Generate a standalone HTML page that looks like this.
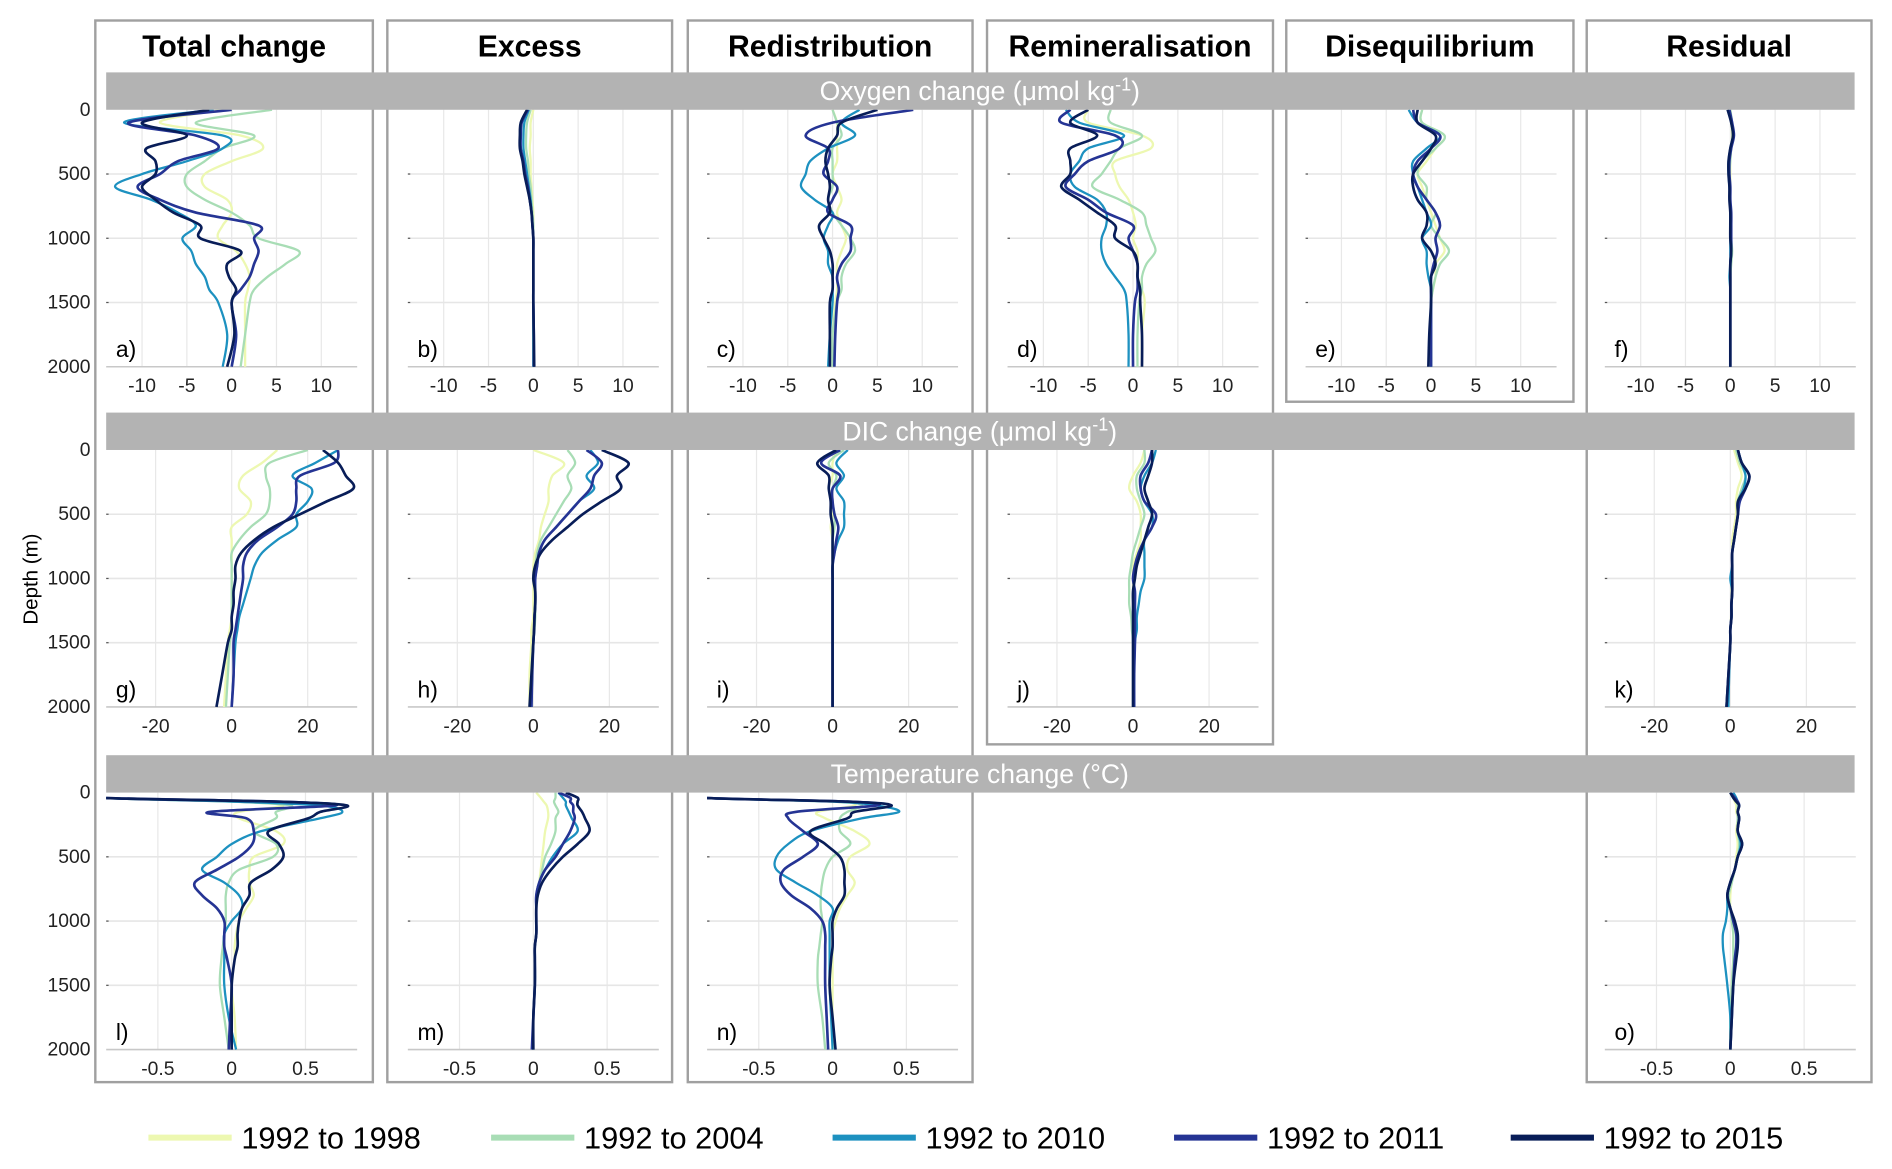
<!DOCTYPE html>
<html><head><meta charset="utf-8">
<style>
html,body{margin:0;padding:0;background:#fff;}
svg{display:block;font-family:"Liberation Sans",Arial,sans-serif;}
</style></head>
<body>
<svg id="chart" width="1892" height="1169" viewBox="0 0 1568 969" preserveAspectRatio="none" xmlns="http://www.w3.org/2000/svg"></svg>
<script>
// ---------- data ----------
const years = ["1992 to 1998","1992 to 2004","1992 to 2010","1992 to 2011","1992 to 2015"];
const colors = ["#edf8b1","#a8ddb5","#1d91c0","#253494","#081d58"];
const depths = [0,100,200,300,400,500,600,700,800,900,1000,1100,1200,1300,1400,1500,1750,2000];
const depthsT = [0,40,70,100,150,200,300,400,500,600,700,800,900,1000,1100,1200,1300,1500,1750,2000];
const ticksO = [-10,-5,0,5,10];
const ticksC = [-20,0,20];
const ticksT = [-0.5,0,0.5];
const depthTicks = [0,500,1000,1500,2000];
const columns = ["Total change","Excess","Redistribution","Remineralisation","Disequilibrium","Residual"];

// Oxygen
const a1998=[-1,-8,1,3.5,0,-3,-3,-0.5,0,-1,-1.5,0.5,1.5,2,1.8,1.5,1.5,1.5];
const a2004=[4.5,-4,2.5,-1,-3,-5,-5,-3,0,2,3,7.5,6,4,2.5,2,1.5,1];
const a2010=[-2,-12,-1,-1,-5,-10,-13,-9,-6,-4,-5.5,-4.5,-4,-3,-2.5,-1.5,-0.5,-1];
const a2011=[0,-11.5,-4,-1.5,-6,-8,-10.5,-8,-4,3,2.5,3,2.5,2,1,0,0.5,0];
const a2015=[-2.5,-10,-5,-9.5,-8.5,-8.5,-10,-8.5,-6.5,-3.5,-3.5,1,-0.5,-0.3,0.5,0,0.3,-0.5];
const b1998=[0,-0.3,-0.3,-0.4,-0.3,-0.3,-0.2,-0.1,0,0,0,0,0,0,0,0,0,0];
const b2004=[-0.3,-0.7,-0.8,-0.8,-0.6,-0.5,-0.3,-0.2,-0.1,0,0,0,0,0,0,0,0,0];
const b2010=[-0.5,-1,-1.1,-1.1,-0.9,-0.7,-0.5,-0.3,-0.2,-0.1,0,0,0,0,0,0,0,0];
const b2011=[-0.6,-1.3,-1.4,-1.4,-1.1,-0.9,-0.6,-0.4,-0.2,-0.1,0,0,0,0,0,0,0.05,0.05];
const b2015=[-0.7,-1.4,-1.5,-1.5,-1.2,-1,-0.7,-0.4,-0.2,-0.1,0,0,0,0,0,0,0.05,0.1];
const c1998=[0,0.5,0.5,0.5,0.5,0,0.5,1,0.5,1,1.5,1,0.5,0.5,0.5,0.3,0,0];
const c2004=[0,0.5,1,0,0,0,0,-0.5,0,1,2,2.5,1.5,1,1,0.5,0,0];
const c2010=[3,1,2.5,-0.5,-2.5,-3,-3.5,-2,0,-0.5,-1,-0.5,-0.5,0,0,0,-0.3,-0.5];
const c2011=[9,0,-3,-0.5,-0.5,-1,0.5,0,-0.5,2,2,2,1,0.5,0.7,0.5,0.3,0.2];
const c2015=[5,1,0.5,-0.5,-0.8,-0.5,-0.3,-0.5,-0.3,-1.5,-1,-0.3,0,0,0,-0.3,-0.3,-0.3];
const d1998=[-5,-5,1,2,-2,-2,-1.5,-0.5,0,0.3,0,0.5,0.5,0.5,1,1.3,1,1];
const d2004=[-2.5,-2.5,1,-1.5,-2.5,-3.5,-4.5,-1.5,1,1.5,2,2.5,1.5,1,1,0.7,0.5,0.5];
const d2010=[-7.5,-6,-1,-5,-6,-7,-6.5,-4,-3,-3,-3.5,-3.5,-3,-2,-1,-0.7,-0.5,-0.5];
const d2011=[-7,-8,-2,-1.5,-5,-6.5,-7.5,-5,-3,0,-0.5,0,0.5,0.5,0.5,0.2,0,0];
const d2015=[-5,-7,-4,-7,-7,-7,-8,-6,-4,-2,-2,0,0.5,0.5,0.8,0.8,1,1];
const e1998=[-1,-1,1.5,0.5,-0.5,-1.5,-1,-0.5,0,0.5,1,1.5,0.5,0.5,0.2,0,0,0];
const e2004=[-1,-1,1.5,0.5,-1,-1.5,-0.5,-0.5,0.5,0,1,2,1,0.5,0.2,0,0,0];
const e2010=[-2.5,-1.5,1,-0.5,-2,-2,-1.5,-1,-0.5,0,-1,-0.5,-0.5,-0.3,0,0,0,0];
const e2011=[-2,-1.5,1,0,-1.5,-2,-1.5,-0.5,0.5,1,0.5,0.7,0.3,0,0,0,0,0];
const e2015=[-1.5,-1.5,0.5,0,-1,-2,-2,-1.5,-0.5,-0.5,-1,0,0.5,0,0,0,-0.2,-0.3];
const f1998=[0,0.1,0.2,0.1,0,0,0,0,0,0,0.1,0.1,0,0,0,0,0,0];
const f2004=[0,0.2,0.3,0.1,0,-0.1,0,0,0,0,0.1,0.2,0.1,0,0,0,0,0];
const f2010=[-0.2,0.1,0.3,0,-0.2,-0.2,-0.1,0,0,0,0,0,0,-0.1,0,0,0,0];
const f2011=[-0.1,0.2,0.4,0.1,-0.1,-0.1,0,0,0.1,0.1,0.1,0.1,0,0,0,0,0,0];
const f2015=[-0.3,0.1,0.3,0,-0.2,-0.2,-0.1,-0.1,0,0,0,0.1,0,0,0,0,0,0];
// DIC
const g1998=[12,8,3,2,5,4,0,0,0,0,0,0,0,0,-0.5,-1,-1.5,-2];
const g2004=[20,10,9,10,10,9,5,2,0,0,0,0,0,0,0,-0.5,-1,-1.5];
const g2010=[28,22,16,21,20,17,17,12,8,6,5,4,3,2,1.5,1,0.5,0];
const g2011=[28,27,18,17,17,16,12,7,4,3,3,2.5,2,1.5,1,0.5,0.5,0];
const g2015=[24,28,30,32,25,18,11,6,2.5,1,1,0.5,0.5,0,0,-1,-2.5,-4];
const h1998=[0,8,5,4,4,3,2,1.5,0.5,0,0,0,0,0,-0.5,-0.5,-1,-1];
const h2004=[9,11,9,10,8,6,4,2,1,0.5,0,0.5,0.5,0.5,0.3,0,-0.5,-0.5];
const h2010=[15,17,14,16,12,9,6,3,1.5,1,0.5,0.5,0.5,0.3,0.2,0,-0.3,-0.5];
const h2011=[14,18,16,15,12,9,6,3,1.5,1,0.5,0.5,0.5,0.3,0.2,0,-0.3,-0.5];
const h2015=[18,25,22,23,18,13,9,5,2,0.5,0,0.5,0.5,0.3,0.2,0,-0.5,-1];
const i1998=[1,0,0,-1,0,0,-0.5,0,0,0,0,0,0,0,0,0,0,0];
const i2004=[3,-1,1,0,0,0.5,0.5,0,0,0,0,0,0,0,0,0,0,0];
const i2010=[4,1,3,1,3,3,3,1.5,0.5,0,0,0,0,0,0,0,0,0];
const i2011=[2,-3,2,0,0,0.5,1.5,1,0.5,0,0,0,0,0,0,0,0,0];
const i2015=[1,-4,-1,-1,-0.5,-0.5,0,0,0,0,0,0,0,0,0,0,0,0];
const j1998=[3,2,0,-1,1,2,2,2,1,0,0,0,0,0,0,0,0,0];
const j2004=[3,3,1,1,2,3,2,1,0,-0.5,-1,-1,-1,-0.5,-0.3,0,0,0];
const j2010=[6,5,3,2,3,5,5,3,3,3,3,2,1.5,1,1,0.5,0.3,0.3];
const j2011=[5,4,2,2,3,6,5,3,1.5,0.5,0,0.5,0.5,0.5,0.5,0.5,0.3,0.3];
const j2015=[5,5,4,3,4,5,4,3,2,1,0.5,0,0,0,0,0,0,0];
const k1998=[1,2,3,2,1.5,1.5,1,0.5,0.5,0.5,0.3,0.3,0.3,0.2,0,0,-0.5,-0.8];
const k2004=[1.5,2.5,4,3,2,2,1.5,1,0.5,0.5,0.5,0.5,0.3,0.3,0,0,-0.5,-1];
const k2010=[2,3,4,3.5,2,2,1.5,1,0.5,0.5,0,0.5,0.3,0.3,0,0,-0.3,-0.5];
const k2011=[2,3,5,4,2.5,2,1.5,1,0.5,0.5,0.5,0.5,0.3,0.3,0,0,-0.5,-1];
const k2015=[2,3,5,4,2,2,1.5,1,0.5,0.5,0.5,0.5,0.3,0.3,0,0,-0.5,-1];
// Temperature
const l1998=[-0.9,-0.9,0,0.35,0.05,0.05,0.3,0.35,0.15,0.12,0.12,0.15,0.1,0.05,0.03,0.02,0.02,0,0.02,0.03];
const l2004=[-0.9,-0.9,0,0.4,0.3,0.3,0.15,0.3,0.28,0.05,-0.02,-0.04,-0.04,-0.04,-0.05,-0.06,-0.07,-0.08,-0.05,-0.02];
const l2010=[-0.9,-0.9,0,0.6,0.75,0.6,0.2,0,-0.1,-0.2,-0.05,0.05,0.07,0,-0.05,-0.05,-0.05,-0.05,-0.02,0.03];
const l2011=[-0.9,-0.9,0.3,0.7,-0.15,0.1,0.15,0.14,0.05,-0.1,-0.25,-0.2,-0.1,-0.05,-0.05,-0.05,-0.03,0,-0.01,-0.02];
const l2015=[-0.9,-0.9,0.3,0.78,0.6,0.52,0.25,0.32,0.35,0.27,0.13,0.12,0.07,0.05,0.04,0.04,0.02,0,0,0];
const m1998=[0.02,0.05,0.07,0.09,0.1,0.1,0.08,0.07,0.06,0.05,0.04,0.03,0.02,0.02,0.02,0.01,0.01,0.01,0,0];
const m2004=[0.15,0.15,0.14,0.15,0.17,0.15,0.15,0.12,0.08,0.06,0.04,0.02,0.02,0.02,0.02,0.01,0.01,0.01,0,0];
const m2010=[0.17,0.2,0.22,0.22,0.24,0.26,0.3,0.2,0.13,0.08,0.04,0.02,0.02,0.02,0.02,0.01,0.01,0.01,0,0];
const m2011=[0.17,0.25,0.25,0.27,0.27,0.28,0.25,0.2,0.15,0.08,0.04,0.02,0.02,0.02,0.02,0.01,0.01,0.01,0,-0.01];
const m2015=[0.22,0.3,0.3,0.3,0.33,0.35,0.38,0.3,0.2,0.12,0.06,0.03,0.02,0.02,0.02,0.01,0.01,0.01,0,0];
const n1998=[-0.9,-0.9,0,0.15,-0.1,-0.05,0.15,0.25,0.12,0.1,0.15,0.1,0.05,0.02,0,0,0,0,0,0.01];
const n2004=[-0.9,-0.9,0,0.2,0.1,0.05,0.05,0.12,0,-0.05,-0.07,-0.08,-0.08,-0.07,-0.08,-0.09,-0.1,-0.1,-0.07,-0.05];
const n2010=[-0.9,-0.9,0,0.3,0.45,0.2,-0.15,-0.3,-0.38,-0.38,-0.25,-0.1,0,-0.02,-0.02,-0.02,-0.02,-0.02,-0.01,0];
const n2011=[-0.9,-0.9,0.1,0.3,-0.25,-0.3,-0.2,-0.1,-0.2,-0.33,-0.35,-0.28,-0.15,-0.07,-0.05,-0.05,-0.05,-0.05,-0.04,-0.03];
const n2015=[-0.9,-0.9,0.1,0.4,0.15,0.1,-0.15,-0.05,0.05,0.08,0.08,0.08,0.03,0,0,0,-0.01,-0.02,0,0.02];
const o1998=[0,0.02,0.03,0.04,0.04,0.05,0.04,0.05,0.04,0.03,0.01,0,0,0.01,0.02,0.02,0.02,0.01,0.01,0];
const o2004=[0,0.02,0.04,0.05,0.05,0.05,0.05,0.06,0.05,0.03,0.01,-0.01,0,0.01,0.02,0.02,0.02,0.01,0,0];
const o2010=[0.02,0.04,0.05,0.06,0.05,0.06,0.05,0.07,0.05,0.03,0,-0.02,-0.02,-0.03,-0.05,-0.05,-0.04,-0.02,0,0];
const o2011=[0,0.03,0.05,0.06,0.05,0.06,0.05,0.08,0.05,0.03,0,-0.02,0,0.02,0.04,0.04,0.03,0.02,0.01,0];
const o2015=[0,0.02,0.04,0.06,0.05,0.06,0.05,0.08,0.05,0.03,0,-0.02,0,0.03,0.05,0.05,0.04,0.02,0.01,0];

// ---------- layout ----------
const NS="http://www.w3.org/2000/svg";
const svg=document.getElementById('chart');
function mk(tag,attrs,parent){const e=document.createElementNS(NS,tag);for(const k in attrs)e.setAttribute(k,attrs[k]);(parent||svg).appendChild(e);return e;}
const boxX=[[79,309],[321,557],[570,806],[818,1055],[1066,1304],[1315,1551]];
const boxBottom=[897,897,897,617,333,897];
const plotLeft=[88,338,586,835,1082,1330];
const PW=208, PH=213;
const rowTop=[91,373,657];
const rowLim=[14,33,0.85];
const rowTicks=[ticksO,ticksC,ticksT];
const rowDepths=[depths,depths,depthsT];
const rowBand=[["Oxygen change (μmol kg","-1",")"],["DIC change (μmol kg","-1",")"],["Temperature change (°C)","",""]];
const panels=[
 [0,0,"a)",[a1998,a2004,a2010,a2011,a2015]],
 [0,1,"b)",[b1998,b2004,b2010,b2011,b2015]],
 [0,2,"c)",[c1998,c2004,c2010,c2011,c2015]],
 [0,3,"d)",[d1998,d2004,d2010,d2011,d2015]],
 [0,4,"e)",[e1998,e2004,e2010,e2011,e2015]],
 [0,5,"f)",[f1998,f2004,f2010,f2011,f2015]],
 [1,0,"g)",[g1998,g2004,g2010,g2011,g2015]],
 [1,1,"h)",[h1998,h2004,h2010,h2011,h2015]],
 [1,2,"i)",[i1998,i2004,i2010,i2011,i2015]],
 [1,3,"j)",[j1998,j2004,j2010,j2011,j2015]],
 [1,5,"k)",[k1998,k2004,k2010,k2011,k2015]],
 [2,0,"l)",[l1998,l2004,l2010,l2011,l2015]],
 [2,1,"m)",[m1998,m2004,m2010,m2011,m2015]],
 [2,2,"n)",[n1998,n2004,n2010,n2011,n2015]],
 [2,5,"o)",[o1998,o2004,o2010,o2011,o2015]]
];

// boxes + headers
columns.forEach((name,c)=>{
  const r=mk('rect',{x:boxX[c][0],y:17,width:boxX[c][1]-boxX[c][0],height:boxBottom[c]-17,fill:'none',stroke:'#a0a0a0','stroke-width':2});
  
  
  const t=mk('text',{x:(boxX[c][0]+boxX[c][1])/2,y:47,'text-anchor':'middle','font-size':25,'font-weight':'bold',fill:'#000'});
  t.textContent=name;
  
  
});

const defs=mk('defs',{});
// plots
panels.forEach((p,pi)=>{
  const [row,col,letter,series]=p;
  const x0=plotLeft[col], y0=rowTop[row], lim=rowLim[row], dep=rowDepths[row];
  const xs=v=>x0+PW/2+v/lim*(PW/2);
  const ys=d=>y0+d/2000*PH;
  const g=mk('g',{});
  
  
  rowTicks[row].forEach(t=>{mk('line',{x1:xs(t),x2:xs(t),y1:y0,y2:y0+PH,stroke:'#e8e8e8','stroke-width':1},g);});
  [500,1000,1500].forEach(d=>{mk('line',{x1:x0,x2:x0+PW,y1:ys(d),y2:ys(d),stroke:'#e6e6e6','stroke-width':1.3},g);
    mk('line',{x1:x0,x2:x0+2,y1:ys(d),y2:ys(d),stroke:'#555','stroke-width':1},g);});
  mk('line',{x1:x0,x2:x0+PW,y1:y0+PH,y2:y0+PH,stroke:'#c8c8c8','stroke-width':1.3},g);
  rowTicks[row].forEach(t=>{const tt=mk('text',{x:xs(t),y:y0+PH+21,'text-anchor':'middle','font-size':16,fill:'#222'},g);tt.textContent=String(t);
    
    });
  if(col===0){depthTicks.forEach(d=>{const tt=mk('text',{x:75,y:ys(d)+5,'text-anchor':'end','font-size':16,fill:'#222'},g);tt.textContent=String(d);
    
    });}
  const cp=mk('clipPath',{id:'cp'+pi},defs);
  mk('rect',{x:x0,y:y0-2,width:PW,height:PH+4},cp);
  series.forEach((vals,si)=>{
    const pts=vals.map((v,k)=>[xs(v),ys(dep[k])]);
    let d='M'+pts[0][0]+','+pts[0][1];
    for(let k=0;k<pts.length-1;k++){
      const p0=pts[Math.max(0,k-1)],p1=pts[k],p2=pts[k+1],p3=pts[Math.min(pts.length-1,k+2)];
      const c1=[p1[0]+(p2[0]-p0[0])/6,p1[1]+(p2[1]-p0[1])/6];
      const c2=[p2[0]-(p3[0]-p1[0])/6,p2[1]-(p3[1]-p1[1])/6];
      d+=' C'+c1.join(',')+' '+c2.join(',')+' '+p2.join(',');
    }
    const path=mk('path',{d:d,fill:'none',stroke:colors[si],'stroke-width':si>=3?2.2:1.9,'clip-path':'url(#cp'+pi+')','stroke-linejoin':'round'},g);
    
    
  });
  const lt=mk('text',{x:x0+8,y:y0+PH-8,'font-size':19,fill:'#000'},g);lt.textContent=letter;
  
  
});

// bands
rowBand.forEach((b,r)=>{
  const rr=mk('rect',{x:88,y:rowTop[r]-31,width:1449,height:31,fill:'#b3b3b3'});
  
  
  const t=mk('text',{x:812,y:rowTop[r]-8,'text-anchor':'middle','font-size':22,fill:'#fff'});
  
  
  const s1=mk('tspan',{},t);s1.textContent=b[0];
  if(b[1]){const s2=mk('tspan',{dy:-8,'font-size':15},t);s2.textContent=b[1];const s3=mk('tspan',{dy:8},t);s3.textContent=b[2];}
});

// y-axis title
const yt=mk('text',{x:0,y:0,transform:'translate(31,480) rotate(-90)','text-anchor':'middle','font-size':17,fill:'#000'});
yt.textContent='Depth (m)';



// legend
const legX=[123,407,690,973,1252];
years.forEach((y,i)=>{
  const g=mk('g',{});
  
  
  mk('line',{x1:legX[i],x2:legX[i]+69,y1:943,y2:943,stroke:colors[i],'stroke-width':5},g);
  const t=mk('text',{x:legX[i]+77,y:952,'font-size':25.5,fill:'#000'},g);t.textContent=y;
});
</script>
</body></html>
